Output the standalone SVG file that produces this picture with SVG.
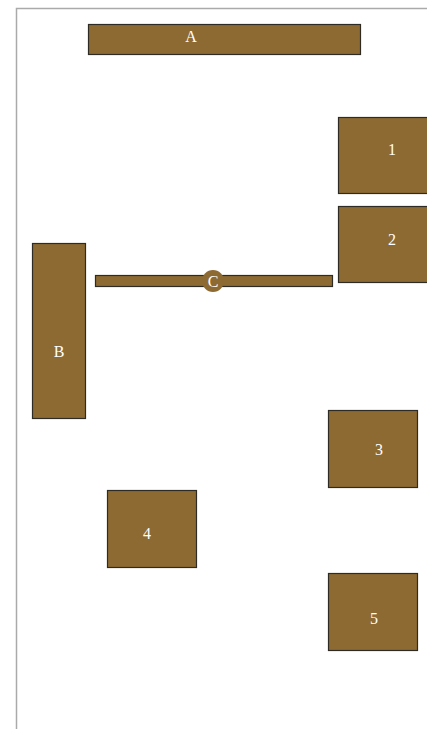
<svg xmlns="http://www.w3.org/2000/svg" width="427" height="729" viewBox="0 0 427 729">
<style>
.n{fill:#8d6a32;stroke:#2e2a24;stroke-width:1.2}
.t{fill:#fff;font-family:"Liberation Serif",serif;font-size:16px;text-anchor:middle;dominant-baseline:central}
</style>
<rect x="0" y="0" width="427" height="729" fill="#fff"/>
<rect x="16.5" y="8.5" width="430" height="740" fill="none" stroke="#aaa" stroke-width="1.5"/>
<g id="A"><rect class="n" x="88.5" y="24.5" width="272" height="30"/><text class="t" x="191" y="36">A</text></g>
<g id="n1"><rect class="n" x="338.5" y="117.5" width="90" height="76"/><text class="t" x="392" y="149">1</text></g>
<g id="n2"><rect class="n" x="338.5" y="206.5" width="90" height="76"/><text class="t" x="392" y="239">2</text></g>
<g id="B"><rect class="n" x="32.5" y="243.5" width="53" height="175"/><text class="t" x="59" y="351">B</text></g>
<g id="C"><rect class="n" x="95.5" y="275.5" width="237" height="11"/><circle cx="213" cy="281" r="11" fill="#8d6a32"/><text class="t" x="213" y="281">C</text></g>
<g id="n3"><rect class="n" x="328.5" y="410.5" width="89" height="77"/><text class="t" x="379" y="449">3</text></g>
<g id="n4"><rect class="n" x="107.5" y="490.5" width="89" height="77"/><text class="t" x="147" y="533">4</text></g>
<g id="n5"><rect class="n" x="328.5" y="573.5" width="89" height="77"/><text class="t" x="374" y="618">5</text></g>
<g id="connectors"></g>
</svg>
